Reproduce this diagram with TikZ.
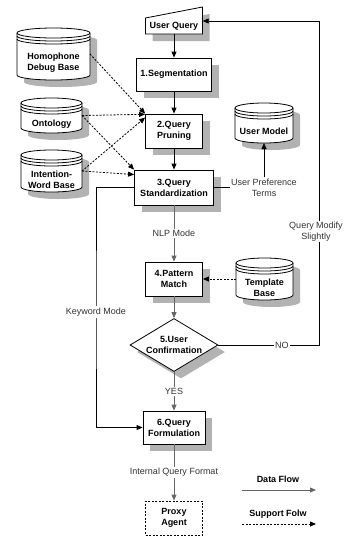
\documentclass[tikz,border=0pt]{standalone}
\usepackage{fontspec}
\setmainfont{Liberation Sans}
\usetikzlibrary{shapes.geometric, shadows, arrows.meta, calc}
\newcommand\boxfont{\fontsize{9}{11}\selectfont\bfseries}
\newcommand\lblfont{\fontsize{9}{11}\selectfont}
\newcommand\dbase[6]{%
\begin{scope}[shift={(#2,#3)}]
\fill[black!30] (7-#4/2,#5/2-12) -- (7-#4/2,-#5/2-2) arc[start angle=180,end angle=360,x radius=#4*0.5pt,y radius=5pt] -- (7+#4/2,#5/2-12) arc[start angle=0,end angle=180,x radius=#4*0.5pt,y radius=5pt] -- cycle;
\draw[line width=0.8pt,fill=white] (-#4/2,#5/2-5) -- (-#4/2,-#5/2+5) arc[start angle=180,end angle=360,x radius=#4*0.5pt,y radius=5pt] -- (#4/2,#5/2-5) arc[start angle=0,end angle=180,x radius=#4*0.5pt,y radius=5pt] -- cycle;
\foreach \d in {0,3,6} \draw[line width=0.8pt] (-#4/2,#5/2-5-\d) arc[start angle=180,end angle=360,x radius=#4*0.5pt,y radius=5pt];
\end{scope}
\node[dbnode, minimum width=#4pt, minimum height=#5pt] (#1) at (#2,#3) {};
\node[dbtext] (#1-t) at (#2,#3-8.5) {#6};}

\begin{document}
\begin{tikzpicture}[x=1pt, y=1pt,
  proc/.style={draw, line width=0.8pt, fill=white, font=\boxfont, align=center, inner sep=1pt,
    drop shadow={shadow xshift=7pt, shadow yshift=-7pt, fill=black!30, opacity=1}},
  decision/.style={proc, diamond, aspect=1.66, inner sep=0pt},
  proxy/.style={draw, line width=0.8pt, dash pattern=on 2pt off 1.5pt, font=\boxfont, align=center},
  dbnode/.style={inner sep=0pt, outer sep=0pt},
  dbtext/.style={font=\boxfont, align=center, inner sep=1pt},
  data/.style={line width=0.8pt, -{Triangle[length=6pt,width=5pt]}},
  gdata/.style={data, draw=black!60},
  supp/.style={data, dash pattern=on 2pt off 1.5pt},
  lbl/.style={font=\lblfont, text=black!80, fill=white, inner sep=1.5pt, align=center}]
\path[use as bounding box, fill=white] (0,0) rectangle (344,-536);

\fill[black!30] (152.5,-41) -- (209.5,-41) -- (209.5,-14) -- (152.5,-25) -- cycle;
\draw[line width=0.8pt, fill=white] (145.5,-34) -- (202.5,-34) -- (202.5,-7) -- (145.5,-18) -- cycle;
\node[font=\boxfont, minimum width=57pt, minimum height=16pt, inner sep=0pt] (uq) at (174,-26) {User Query};

\node[proc, minimum width=75pt, minimum height=33pt] (seg) at (174,-74.5) {1.Segmentation};
\node[proc, minimum width=57pt, minimum height=34pt] (pr) at (174,-131) {2.Query\\Pruning};
\node[proc, minimum width=79pt, minimum height=35pt] (std) at (174,-187.5) {3.Query\\Standardization};
\node[proc, minimum width=57pt, minimum height=34pt] (pat) at (174,-279) {4.Pattern\\Match};
\node[decision, minimum width=88pt, minimum height=53pt] (conf) at (174,-345) {5.User\\Confirmation};
\node[proc, minimum width=62pt, minimum height=33pt] (form) at (174,-427.5) {6.Query\\Formulation};
\node[proxy, minimum width=57pt, minimum height=34pt] (prx) at (174,-518) {Proxy\\Agent};

\dbase{hom}{53.5}{-54}{73}{52}{Homophone\\Debug Base}
\dbase{ont}{51.5}{-115.5}{61}{35}{Ontology}
\dbase{iwb}{51.5}{-171}{61}{42}{Intention-\\Word Base}
\dbase{um}{264}{-123}{58}{40}{User Model}
\dbase{tmpl}{264.5}{-279}{57}{42}{Template\\Base}

\path (uq) edge[data] (seg)
      (seg) edge[data] (pr)
      (pr) edge[data] (std)
      (std) edge[gdata] node[lbl] {NLP Mode} (pat)
      (pat) edge[gdata] (conf)
      (conf) edge[gdata] node[lbl] {YES} (form)
      (form) edge[gdata] node[lbl] {Internal Query Format} (prx);

\path (hom.east) edge[supp] (pr.north west)
      (ont.east) edge[supp] (pr.150)
      (ont.east) edge[supp] (std.north west)
      (iwb.east) edge[supp] (pr.155)
      (iwb.east) edge[supp] (std.162)
      (tmpl.west) edge[supp] (pat.east);

\draw[data] (std.east) -| node[lbl] {User Preference\\Terms} (um.south);

\coordinate (kw) at (96,-312);
\draw[data] (std.west) -| (kw) node[lbl] {Keyword Mode} |- (form.west);

\coordinate (fb) at (319,-345);
\coordinate (uqin) at ($(uq.east)+(0,5)$);
\draw[data] (conf.east) -- node[lbl, pos=0.63] {NO} (fb) -- node[lbl, pos=0.35, inner sep=1pt, xshift=-3pt] {Query Modify\\Slightly} (fb |- uqin) -- (uqin);

\node[font=\boxfont] (ldata) at (278,-479) {Data Flow};
\coordinate (ld1) at (242,-490);
\coordinate (ld2) at (316,-490);
\draw[gdata] (ld1) -- (ld2);
\node[font=\boxfont] (lsupp) at (278,-514) {Support Folw};
\coordinate (ls1) at (242,-524);
\coordinate (ls2) at (316,-524);
\draw[supp] (ls1) -- (ls2);
\end{tikzpicture}
\end{document}
